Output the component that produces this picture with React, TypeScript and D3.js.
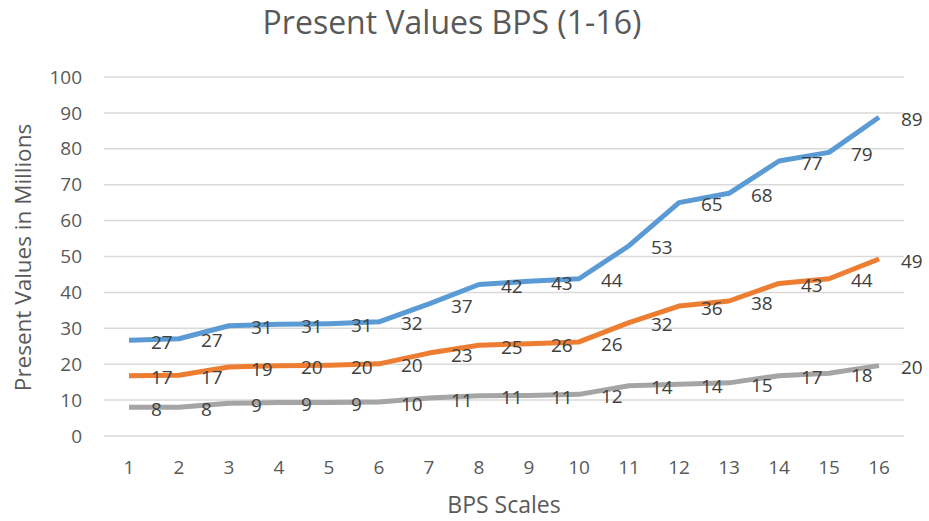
import React, { useEffect, useRef } from "react";
import * as d3 from "d3";

const scales = ["1", "2", "3", "4", "5", "6", "7", "8", "9", "10", "11", "12", "13", "14", "15", "16"];
const blueValues = [26.7, 27.1, 30.7, 31.1, 31.3, 31.8, 36.8, 42.2, 43.1, 43.8, 53.0, 65.0, 67.6, 76.6, 79.0, 88.8];
const orangeValues = [16.8, 16.9, 19.2, 19.6, 19.7, 20.1, 23.1, 25.3, 25.7, 26.2, 31.6, 36.2, 37.6, 42.5, 43.8, 49.3];
const grayValues = [8.0, 8.0, 9.1, 9.3, 9.3, 9.5, 10.6, 11.2, 11.3, 11.6, 14.0, 14.4, 14.8, 16.8, 17.5, 19.6];
const yTicks = [0, 10, 20, 30, 40, 50, 60, 70, 80, 90, 100];

const width = 929;
const height = 521;
const textColor = "#595959";
const labelColor = "#404040";
const font = "'Open Sans', 'Liberation Sans', sans-serif";

export default function App() {
  const ref = useRef<SVGSVGElement>(null);

  useEffect(() => {
    const svg = d3.select(ref.current);
    svg.selectAll("*").remove();

    const plotLeft = 104;
    const plotRight = 904;
    const plotTop = 77;
    const plotBottom = 436;

    const x = d3.scalePoint<string>().domain(scales).range([plotLeft, plotRight]).padding(0.5);
    const y = d3.scaleLinear().domain([0, 100]).range([plotBottom, plotTop]);

    // title
    svg.append("text")
      .attr("x", 452)
      .attr("y", 34)
      .attr("text-anchor", "middle")
      .attr("font-size", 32)
      .attr("fill", textColor)
      .text("Present Values BPS (1-16)");

    // gridlines
    svg.append("g")
      .selectAll("line")
      .data(yTicks)
      .enter()
      .append("line")
      .attr("x1", plotLeft)
      .attr("x2", plotRight)
      .attr("y1", d => y(d))
      .attr("y2", d => y(d))
      .attr("stroke", "#d9d9d9")
      .attr("stroke-width", 1.5);

    // y tick labels
    svg.append("g")
      .selectAll("text")
      .data(yTicks)
      .enter()
      .append("text")
      .attr("x", 82)
      .attr("y", d => y(d))
      .attr("dy", "0.35em")
      .attr("text-anchor", "end")
      .attr("font-size", 19)
      .attr("fill", textColor)
      .text(d => d);

    // x tick labels
    svg.append("g")
      .selectAll("text")
      .data(scales)
      .enter()
      .append("text")
      .attr("x", d => x(d)!)
      .attr("y", 467)
      .attr("dy", "0.35em")
      .attr("text-anchor", "middle")
      .attr("font-size", 19)
      .attr("fill", textColor)
      .text(d => d);

    // axis titles
    svg.append("text")
      .attr("transform", `translate(31, ${(plotTop + plotBottom) / 2 + 1}) rotate(-90)`)
      .attr("text-anchor", "middle")
      .attr("font-size", 22.5)
      .attr("fill", textColor)
      .text("Present Values in Millions");

    svg.append("text")
      .attr("x", (plotLeft + plotRight) / 2)
      .attr("y", 513)
      .attr("text-anchor", "middle")
      .attr("font-size", 23)
      .attr("fill", textColor)
      .text("BPS Scales");

    const series = [
      { values: grayValues, color: "#a5a5a5" },
      { values: orangeValues, color: "#ed7d31" },
      { values: blueValues, color: "#5b9bd5" },
    ];

    const line = d3.line<number>()
      .x((_, i) => x(scales[i])!)
      .y(d => y(d));

    series.forEach(s => {
      svg.append("path")
        .datum(s.values)
        .attr("d", line)
        .attr("fill", "none")
        .attr("stroke", s.color)
        .attr("stroke-width", 5)
        .attr("stroke-linejoin", "round");
    });

    // data labels, right of each point
    series.forEach(s => {
      svg.append("g")
        .selectAll("text")
        .data(s.values)
        .enter()
        .append("text")
        .attr("x", (_, i) => x(scales[i])! + 22)
        .attr("y", d => y(d) + 2)
        .attr("dy", "0.35em")
        .attr("font-size", 19)
        .attr("fill", labelColor)
        .text(d => Math.round(d));
    });
  }, []);

  return (
    <svg
      ref={ref}
      width={width}
      height={height}
      style={{ position: "absolute", left: 0, top: 0, background: "#fff", fontFamily: font }}
    />
  );
}
